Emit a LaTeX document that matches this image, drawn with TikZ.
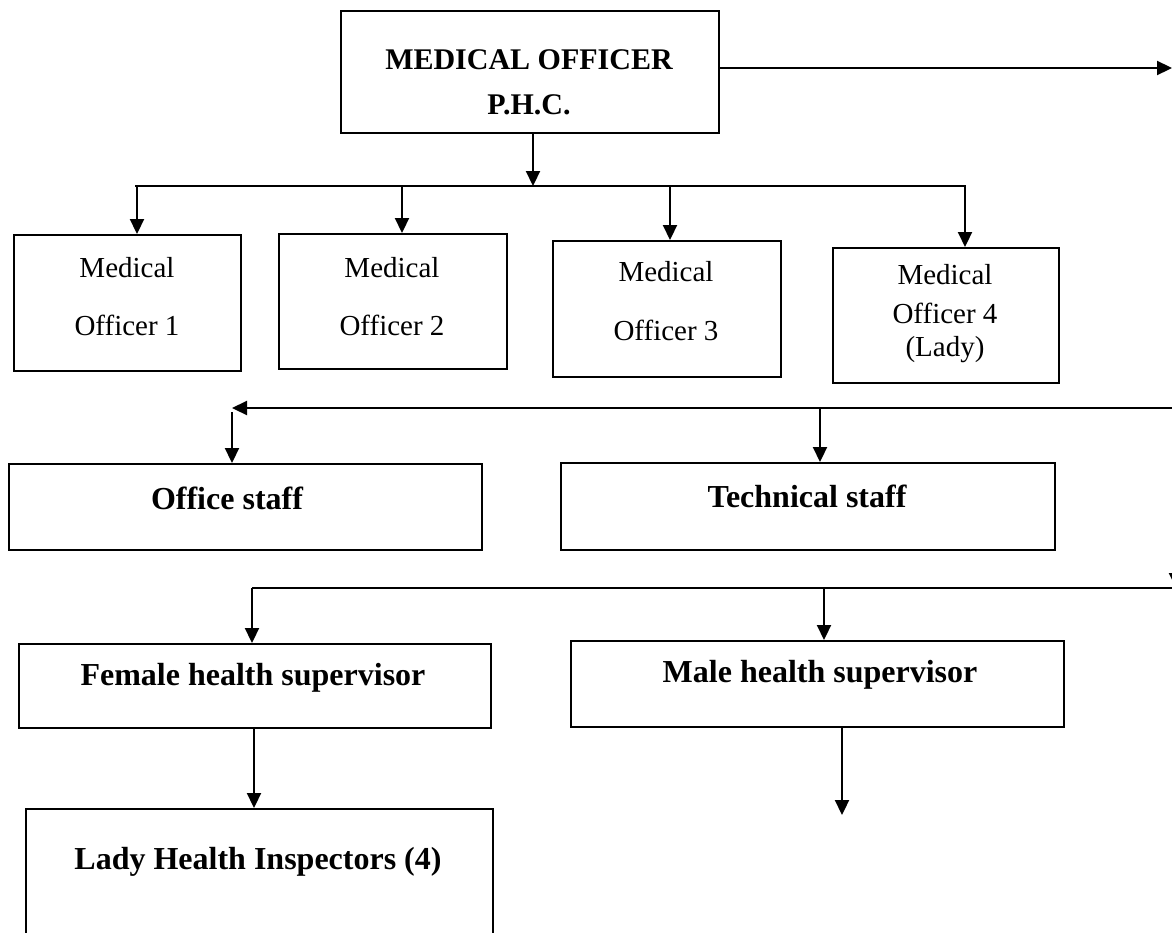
\documentclass[tikz,border=0pt]{standalone}
\usepackage{fontspec}
\setmainfont{Liberation Serif}
\usepackage{tikz}
\usetikzlibrary{arrows.meta,positioning,calc}
\definecolor{oline}{HTML}{000000}
\tikzset{
  box/.style={draw=oline, line width=2.2pt, inner sep=0pt, anchor=north west},
  txt/.style={font=\fontsize{29}{36}\selectfont, align=center, inner sep=0pt},
  btxt/.style={txt, font=\fontsize{32}{38}\selectfont\bfseries},
  arr/.style={-{Triangle[length=15pt,width=14pt]}, draw=oline, line width=2.2pt},
  bar/.style={draw=oline, line width=2.2pt},
}

\begin{document}
\begin{tikzpicture}[x=1pt, y=-1pt]
  \clip (0,0) rectangle (1172,932);
  \fill[white] (0,0) rectangle (1172,932);

  \node[box, minimum width=378pt, minimum height=122pt] (mo) at (340,10) {};
  \node[btxt, font=\fontsize{30}{36}\selectfont\bfseries] (mot1) at (529,60) {MEDICAL OFFICER};
  \node[btxt, font=\fontsize{30}{36}\selectfont\bfseries] (mot2) at (529,105) {P.H.C.};

  \node[box, minimum width=227pt, minimum height=136pt] (mo1) at (13,234) {};
  \node[txt] (mo1a) at (127,268) {Medical};
  \node[txt] (mo1b) at (127,325) {Officer 1};
  \node[box, minimum width=228pt, minimum height=135pt] (mo2) at (278,233) {};
  \node[txt] (mo2a) at (392,268) {Medical};
  \node[txt] (mo2b) at (392,325) {Officer 2};
  \node[box, minimum width=228pt, minimum height=136pt] (mo3) at (552,240) {};
  \node[txt] (mo3a) at (666,272) {Medical};
  \node[txt] (mo3b) at (666,330) {Officer 3};
  \node[box, minimum width=226pt, minimum height=135pt] (mo4) at (832,247) {};
  \node[txt] (mo4a) at (945,275) {Medical};
  \node[txt] (mo4b) at (945,313) {Officer 4};
  \node[txt] (mo4c) at (945,350) {(Lady)};

  \node[box, minimum width=473pt, minimum height=86pt] (off) at (8,463) {};
  \node[btxt] (offt) at (227,498) {Office staff};
  \node[box, minimum width=494pt, minimum height=87pt] (tech) at (560,462) {};
  \node[btxt] (techt) at (807,496) {Technical staff};

  \node[box, minimum width=472pt, minimum height=84pt] (fem) at (18,643) {};
  \node[btxt] (femt) at (253,678) {Female health supervisor};
  \node[box, minimum width=493pt, minimum height=86pt] (male) at (570,640) {};
  \node[btxt] (malet) at (820,675) {Male health supervisor};
  \node[box, minimum width=467pt, minimum height=140pt] (lhi) at (25,808) {};
  \node[btxt] (lhit) at (258,862) {Lady Health Inspectors (4)};

  \coordinate (rtop) at (1172,68);
  \coordinate (bus1) at (533,186);
  \coordinate (bus2r) at (1172,408);
  \coordinate (bus2l) at (232,408);
  \coordinate (bus3l) at (252,588);
  \coordinate (bus3r) at (1172,588);
  \coordinate (rdrop) at (1176,560);
  \coordinate (mend) at (842,815);

  \draw[arr] (mo.east |- rtop) -- (rtop);
  \draw[arr] (mo.south -| bus1) -- (bus1);
  \draw[bar] (135,186) -- (966,186);
  \draw[arr] (137,186) -- (mo1.north -| 137,0);
  \draw[arr] (402,186) -- (mo2.north -| 402,0);
  \draw[arr] (670,186) -- (mo3.north -| 670,0);
  \draw[arr] (965,186) -- (mo4.north -| 965,0);

  \draw[arr] (bus2r) -- (bus2l);
  \draw[arr] ($(bus2l)+(0,4)$) -- (off.north -| bus2l);
  \draw[arr] (820,408) -- (tech.north -| 820,0);

  \draw[bar] (bus3l) -- (bus3r);
  \draw[arr] (rdrop) -- (rdrop |- bus3r);
  \draw[arr] (bus3l) -- (fem.north -| bus3l);
  \draw[arr] (824,588) -- (male.north -| 824,0);

  \draw[arr] (fem.south -| 254,0) -- (lhi.north -| 254,0);
  \draw[arr] (male.south -| mend) -- (mend);
\end{tikzpicture}
\end{document}
